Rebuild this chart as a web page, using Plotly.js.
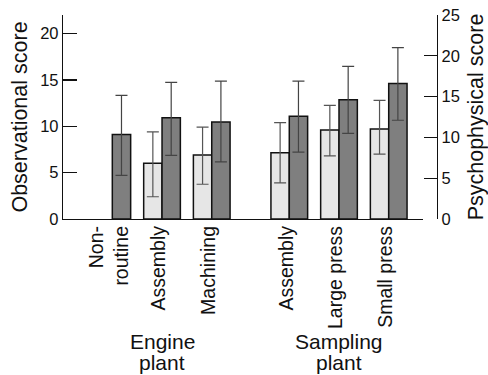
<!DOCTYPE html>
<html><head><meta charset="utf-8">
<script src="https://cdn.plot.ly/plotly-3.0.1.min.js"></script>
<style>html,body{margin:0;padding:0;background:#fff}</style>
</head><body><div id="chart" style="width:488px;height:375px"></div>
<script>
const categories = ["Non-<br>routine", "Assembly", "Machining", "Assembly", "Large press", "Small press"];
const plantOfCategory = [0, 0, 0, 1, 1, 1];
const plantNames = ["Engine", "Sampling"];
const plantSuffix = "plant";
const observational = [null, 6.0, 6.9, 7.15, 9.6, 9.7];
const observationalErrPlus = [null, 3.4, 3.0, 3.25, 2.65, 3.1];
const observationalErrMinus = [null, 3.6, 3.15, 3.25, 2.8, 2.7];
const psychophysical = [10.35, 12.4, 11.9, 12.6, 14.6, 16.6];
const psychophysicalErrPlus = [4.8, 4.35, 5.0, 4.3, 4.1, 4.4];
const psychophysicalErrMinus = [5.0, 4.6, 4.9, 4.4, 4.1, 4.5];

const GROUP_GAP = 0.56;
const pos = categories.map((c, i) => i + plantOfCategory[i] * GROUP_GAP);
const BW = 0.369;
const font = "Liberation Sans, Arial, sans-serif";

const traces = [
  {
    type: 'bar', x: pos, y: observational, yaxis: 'y', xaxis: 'x',
    width: BW, offset: -BW,
    marker: {color: '#e6e6e6', line: {color: '#111', width: 1.5}},
    error_y: {type: 'data', array: observationalErrPlus, arrayminus: observationalErrMinus,
      symmetric: false, color: '#555', thickness: 1.2, width: 6},
    showlegend: false, hoverinfo: 'none'
  },
  {
    type: 'bar', x: pos, y: psychophysical, yaxis: 'y2', xaxis: 'x',
    width: BW, offset: 0,
    marker: {color: '#7f7f7f', line: {color: '#111', width: 1.5}},
    error_y: {type: 'data', array: psychophysicalErrPlus, arrayminus: psychophysicalErrMinus,
      symmetric: false, color: '#444', thickness: 1.2, width: 6},
    showlegend: false, hoverinfo: 'none'
  }
];

const groupCenters = plantNames.map((p, g) => {
  const ps = pos.filter((v, i) => plantOfCategory[i] === g);
  return (ps[0] + ps[ps.length - 1]) / 2;
});

const annFont = {size: 21, family: font, color: '#111'};
const annotations = [];
plantNames.forEach((name, g) => {
  annotations.push({text: name, x: groupCenters[g], xref: 'x', y: -0.600, yref: 'paper',
    xanchor: 'center', yanchor: 'middle', showarrow: false, font: annFont});
  annotations.push({text: plantSuffix, x: groupCenters[g], xref: 'x', y: -0.701, yref: 'paper',
    xanchor: 'center', yanchor: 'middle', showarrow: false, font: annFont});
});

const layout = {
  width: 488, height: 375,
  margin: {l: 63, r: 51, t: 15, b: 156},
  paper_bgcolor: '#fff', plot_bgcolor: '#fff',
  font: {family: font, color: '#111'},
  barmode: 'overlay',
  xaxis: {
    domain: [0, 0.9626], range: [-0.992, 6.25],
    showline: true, linecolor: '#111', linewidth: 1.2,
    ticks: '', tickvals: pos, ticktext: categories, tickangle: -90,
    ticklabelshift: -3, ticklabelstandoff: -2,
    tickfont: {size: 19.5, family: font, color: '#111'},
    showgrid: false, zeroline: false, fixedrange: true
  },
  yaxis: {
    range: [0, 22], dtick: 5, tick0: 0,
    ticks: 'inside', ticklen: 14, tickcolor: '#111', tickwidth: 1.2,
    showline: true, linecolor: '#111', linewidth: 1.2,
    showgrid: false, zeroline: false,
    tickfont: {size: 16.5, family: font, color: '#111'},
    title: {text: 'Observational score', font: {size: 21.5, family: font, color: '#111'}, standoff: 6}
  },
  yaxis2: {
    overlaying: 'y', side: 'right', anchor: 'free', position: 1,
    range: [0, 25], dtick: 5, tick0: 0,
    ticks: 'inside', ticklen: 13, tickcolor: '#111', tickwidth: 1.2,
    showline: true, linecolor: '#111', linewidth: 1.2,
    showgrid: false, zeroline: false,
    tickfont: {size: 16.5, family: font, color: '#111'},
    title: {text: 'Psychophysical score', font: {size: 21.5, family: font, color: '#111'}, standoff: 15}
  },
  annotations: annotations
};

Plotly.newPlot('chart', traces, layout, {displayModeBar: false, staticPlot: true});
</script>
</body></html>
